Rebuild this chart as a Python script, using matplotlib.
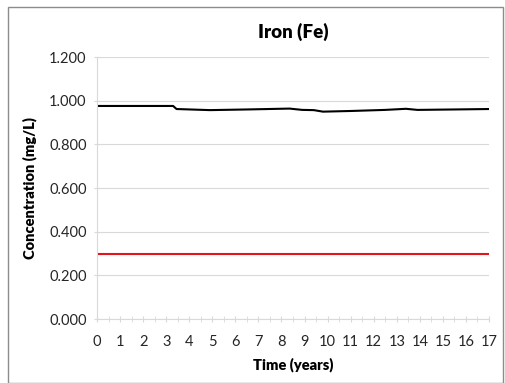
import numpy as np
import matplotlib.pyplot as plt
from matplotlib.patches import Rectangle

plt.rcParams['font.family'] = ['Lato', 'DejaVu Sans']

# Iron concentration over time
years = [0, 3.3, 3.45, 4.9, 6.5, 8.35, 8.9, 9.4, 9.8, 11.0, 12.5, 13.4, 13.9, 15.5, 17]
iron = [0.976, 0.976, 0.962, 0.957, 0.960, 0.964, 0.958, 0.957, 0.950, 0.953, 0.958, 0.963, 0.958, 0.960, 0.962]

# Guideline value
limit_x = [0, 17]
limit_y = [0.3, 0.3]

fig = plt.figure(figsize=(5.06, 3.83), dpi=100)
ax = fig.add_axes([0.1917, 0.167, 0.7747, 0.684])

ax.plot(years, iron, color='black', lw=1.5)
ax.plot(limit_x, limit_y, color='#e3141b', lw=1.5)

ax.set_xlim(0, 17)
ax.set_ylim(0, 1.2)
ax.set_xticks(range(0, 18))
ax.set_xticks(np.arange(0, 17.01, 0.5), minor=True)
ax.set_yticks(np.arange(0, 1.21, 0.2))
ax.set_yticklabels([f'{v:.3f}' for v in np.arange(0, 1.21, 0.2)])

ax.grid(axis='y', color='#d9d9d9', lw=0.8)
ax.set_axisbelow(True)
for s in ['top', 'right']:
    ax.spines[s].set_visible(False)
ax.spines['left'].set_color('#d9d9d9')
ax.spines['bottom'].set_color('#d9d9d9')
ax.tick_params(axis='x', which='both', direction='inout', length=5, color='#d9d9d9', labelsize=10.5, pad=9)
ax.tick_params(axis='y', length=5, color='#d9d9d9', labelsize=10.5, direction='inout', pad=5)
ax.tick_params(axis='x', which='minor', length=5)
for lab in ax.get_xticklabels() + ax.get_yticklabels():
    lab.set_color('#262626')

ax.set_xlabel('Time (years)', fontweight='heavy', fontsize=10.5, labelpad=6)
ax.set_ylabel('Concentration (mg/L)', fontweight='heavy', fontsize=10.5, labelpad=9)
ax.set_title('Iron (Fe)', fontweight='heavy', fontsize=13.5, pad=14)

fig.patches.append(Rectangle((8 / 506, 0), 495 / 506, 376 / 383, transform=fig.transFigure,
                             fill=False, edgecolor='#8c8c8c', lw=1))

fig.savefig('out.png', dpi=100)
